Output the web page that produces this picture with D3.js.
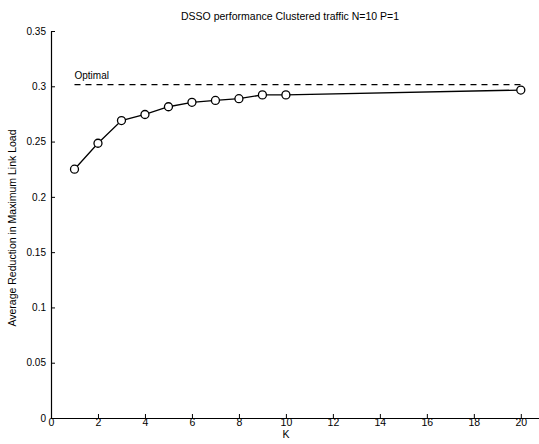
<!DOCTYPE html>
<html>
<head>
<meta charset="utf-8">
<script src="https://cdn.jsdelivr.net/npm/d3@7"></script>
<style>
  body { margin: 0; background: #fff; }
  svg { display: block; font-family: "Liberation Sans", Arial, sans-serif; }
  svg text { fill: #000; }
</style>
</head>
<body>
<div id="chart"></div>
<script>
// data
const kValues = [1, 2, 3, 4, 5, 6, 7, 8, 9, 10, 20];
const reduction = [0.225, 0.2485, 0.269, 0.2745, 0.2815, 0.2855, 0.2872, 0.2888, 0.2922, 0.2922, 0.2966];
const optimalK = [1, 20];
const optimalValue = [0.3015, 0.3015];
const xTicks = [0, 2, 4, 6, 8, 10, 12, 14, 16, 18, 20];
const yTicks = [0, 0.05, 0.1, 0.15, 0.2, 0.25, 0.3, 0.35];

const W = 539, H = 444;

const svg = d3.select("#chart")
    .append("svg")
    .attr("width", W)
    .attr("height", H);

// scales: K=0 at x=51, K=20 at x=521; y=0 at 418, y=0.35 at 31
const x = d3.scaleLinear().domain([0, 21]).range([51, 544.3]);
const y = d3.scaleLinear().domain([0, 0.35]).range([418, 31]);

// x axis, ticks point up into the plot
const xAxis = svg.append("g")
    .attr("transform", `translate(0,${y(0)})`)
    .call(d3.axisBottom(x).tickValues(xTicks).tickSizeInner(-4).tickSizeOuter(0)
        .tickPadding(2).tickFormat(d3.format("d")));
xAxis.select(".domain").attr("stroke-width", 1.2);
xAxis.selectAll("text").attr("font-size", 10.5).attr("fill", "#000").attr("dy", "0.55em");

// y axis, ticks point right
const yAxis = svg.append("g")
    .attr("transform", `translate(${x(0)},0)`)
    .call(d3.axisLeft(y).tickValues(yTicks).tickSizeInner(-4).tickSizeOuter(0)
        .tickPadding(5).tickFormat(d => d === 0 ? "0" : d3.format("")(d)));
yAxis.select(".domain").attr("stroke-width", 1.2);
yAxis.selectAll("text").attr("font-size", 10).attr("fill", "#000");

// dashed optimal line
svg.append("path")
    .datum(optimalK.map((k, i) => [k, optimalValue[i]]))
    .attr("fill", "none")
    .attr("stroke", "#000")
    .attr("stroke-width", 1.1)
    .attr("stroke-dasharray", "6,5")
    .attr("d", d3.line().x(d => x(d[0])).y(d => y(d[1])));

svg.append("text")
    .attr("x", x(1))
    .attr("y", y(optimalValue[0]) - 6)
    .attr("font-size", 10)
    .text("Optimal");

// performance curve
const pts = kValues.map((k, i) => [k, reduction[i]]);
svg.append("path")
    .datum(pts)
    .attr("fill", "none")
    .attr("stroke", "#000")
    .attr("stroke-width", 1.3)
    .attr("d", d3.line().x(d => x(d[0])).y(d => y(d[1])));

svg.selectAll("circle.pt")
    .data(pts)
    .join("circle")
    .attr("class", "pt")
    .attr("cx", d => x(d[0]))
    .attr("cy", d => y(d[1]))
    .attr("r", 4)
    .attr("fill", "#fff")
    .attr("stroke", "#000")
    .attr("stroke-width", 1.3);

// title and labels
svg.append("text")
    .attr("x", 290)
    .attr("y", 20)
    .attr("text-anchor", "middle")
    .attr("font-size", 10.5)
    .text("DSSO performance  Clustered traffic N=10 P=1");

svg.append("text")
    .attr("x", 286)
    .attr("y", 438)
    .attr("text-anchor", "middle")
    .attr("font-size", 10.5)
    .text("K");

svg.append("text")
    .attr("transform", "translate(16,228) rotate(-90)")
    .attr("text-anchor", "middle")
    .attr("font-size", 10.5)
    .text("Average Reduction in Maximum Link Load");
</script>
</body>
</html>
